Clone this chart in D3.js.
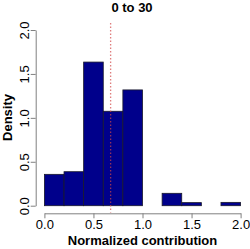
<!DOCTYPE html>
<html>
<head>
<meta charset="utf-8">
<script src="https://cdn.jsdelivr.net/npm/d3@7"></script>
<style>
  body { margin: 0; background: #fff; }
  text { font-family: "Liberation Sans", Arial, sans-serif; }
</style>
</head>
<body>
<svg id="chart" width="250" height="249"></svg>
<script>
const binEdges = [0, 0.2, 0.4, 0.6, 0.8, 1.0, 1.2, 1.4, 1.6, 1.8, 2.0];
const densities = [0.357, 0.387, 1.635, 1.075, 1.318, 0, 0.141, 0.035, 0, 0.038];
const xTicks = [0, 0.5, 1.0, 1.5, 2.0];
const yTicks = [0, 0.5, 1.0, 1.5, 2.0];
const meanValue = 0.675;
const title = "0 to 30";

function drawHist() {
    const svg = d3.select("#chart");
    const x = d3.scaleLinear().domain([0, 2]).range([44.4, 240.6]);
    const y = d3.scaleLinear().domain([0, 2]).range([205.7, 30]);

    const bins = densities.map((d, i) => ({x0: binEdges[i], x1: binEdges[i + 1], value: d}))
        .filter((d) => d.value > 0);

    svg.append("g")
        .selectAll("rect")
        .data(bins)
        .join("rect")
        .attr("x", (d) => x(d.x0))
        .attr("y", (d) => y(d.value))
        .attr("width", (d) => x(d.x1) - x(d.x0))
        .attr("height", (d) => y(0) - y(d.value))
        .attr("fill", "#00008b")
        .attr("stroke", "#1a1a2a")
        .attr("stroke-width", 0.8);

    // vertical dotted line at the mean
    svg.append("line")
        .attr("x1", x(meanValue))
        .attr("x2", x(meanValue))
        .attr("y1", 23)
        .attr("y2", 212.5)
        .attr("stroke", "rgba(210,70,70,0.7)")
        .attr("stroke-width", 1.3)
        .attr("stroke-dasharray", "1.5,2");

    const xAxis = svg.append("g")
        .attr("transform", "translate(0, 213.3)")
        .call(d3.axisBottom(x).tickValues(xTicks).tickFormat(d3.format(".1f")).tickSize(5).tickSizeOuter(0));
    xAxis.select(".domain").attr("stroke", "#808080");
    xAxis.selectAll(".tick line").attr("stroke", "#808080");
    xAxis.selectAll("text")
        .attr("y", 6.5)
        .attr("dy", "0.71em")
        .style("font-size", "13px")
        .attr("fill", "#000");

    const yAxis = svg.append("g")
        .attr("transform", "translate(35.7, 0)")
        .call(d3.axisLeft(y).tickValues(yTicks).tickFormat(d3.format(".1f")).tickSize(5).tickSizeOuter(0));
    yAxis.select(".domain").attr("stroke", "#808080");
    yAxis.selectAll(".tick line").attr("stroke", "#808080");
    yAxis.selectAll("text")
        .attr("x", null)
        .attr("transform", "translate(-11, 0) rotate(-90)")
        .attr("text-anchor", "middle")
        .attr("dy", "0.35em")
        .style("font-size", "13px")
        .attr("fill", "#000");

    svg.append("text")
        .attr("x", 132)
        .attr("y", 12)
        .attr("text-anchor", "middle")
        .style("font-size", "13px")
        .style("font-weight", "bold")
        .text(title);

    svg.append("text")
        .attr("x", 142.5)
        .attr("y", 244.5)
        .attr("text-anchor", "middle")
        .style("font-size", "13px")
        .style("font-weight", "bold")
        .text("Normalized contribution");

    svg.append("text")
        .attr("transform", "translate(11.5, 117.5) rotate(-90)")
        .attr("text-anchor", "middle")
        .style("font-size", "13px")
        .style("font-weight", "bold")
        .text("Density");
}

drawHist();
</script>
</body>
</html>
